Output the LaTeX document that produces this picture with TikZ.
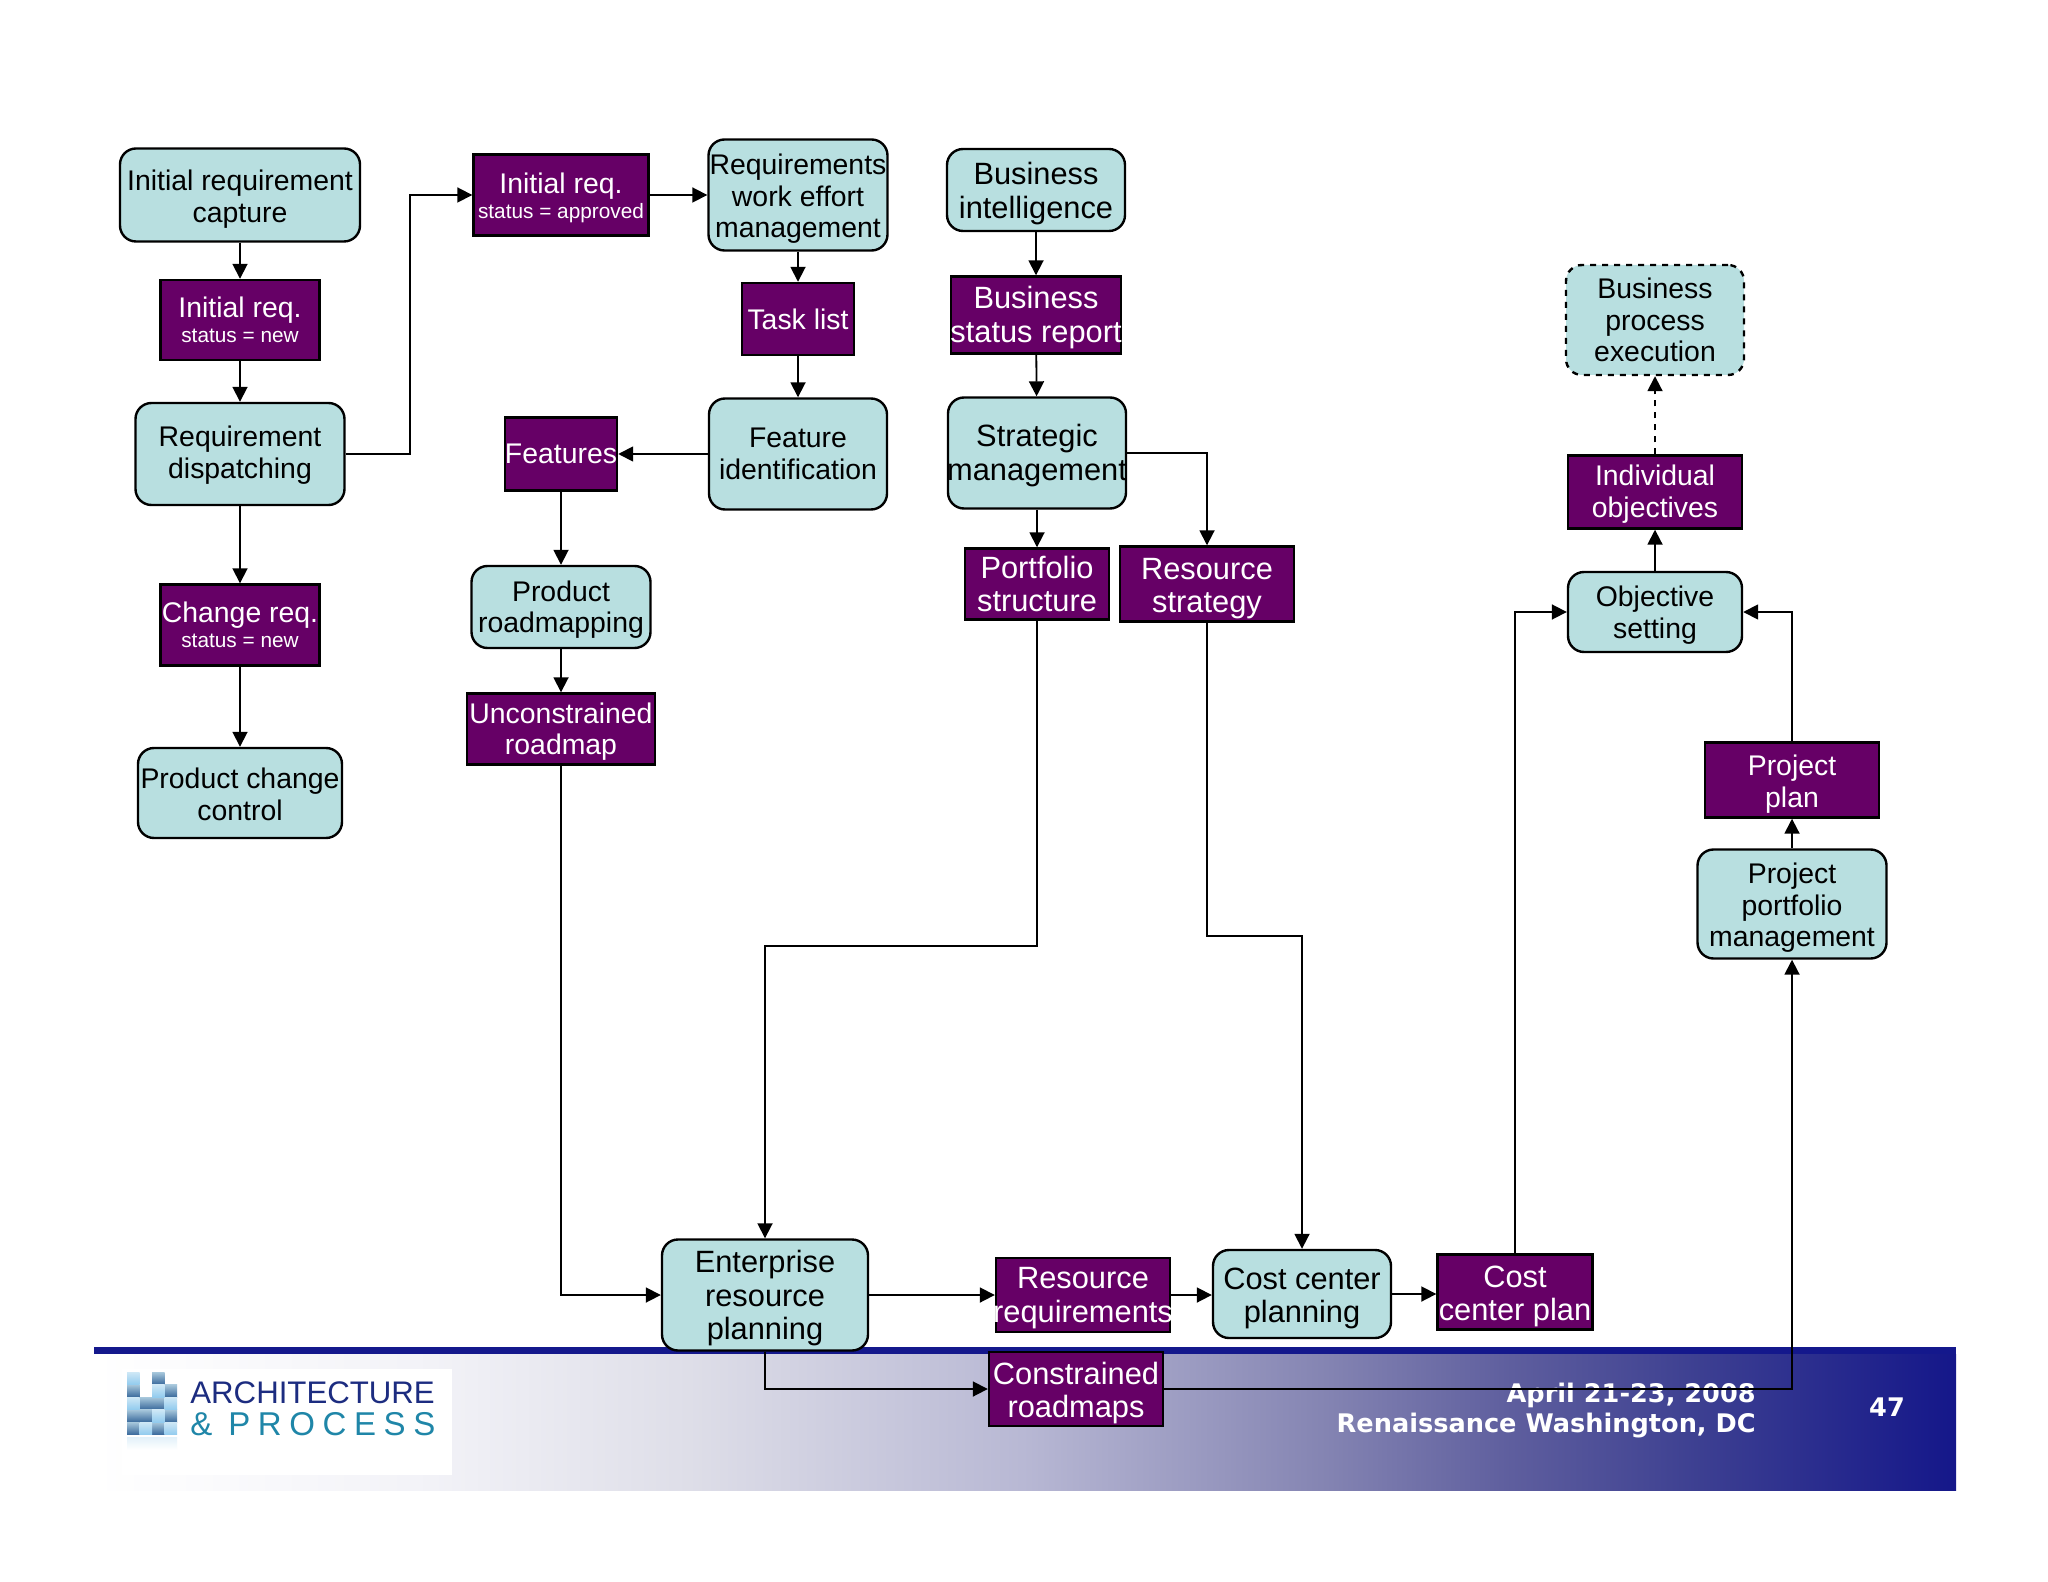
\documentclass[tikz,border=0pt]{standalone}
\usepackage{fontspec}
\setmainfont{Liberation Sans}
\newfontfamily\footfont{DejaVu Sans}
\newfontfamily\logospaced[LetterSpace=23]{Liberation Sans}
\usetikzlibrary{arrows.meta}
\definecolor{boxteal}{HTML}{B8DFE0}
\definecolor{boxpurple}{HTML}{660066}
\definecolor{footernavy}{HTML}{14188C}
\definecolor{logonavy}{HTML}{1C2C80}
\definecolor{logoteal}{HTML}{1F86A8}
\definecolor{blockdark}{HTML}{3A6A9C}
\definecolor{blockmid}{HTML}{A8C8DC}
\definecolor{blocklight}{HTML}{92CBEE}
\definecolor{blockpale}{HTML}{CFE8F6}
\pgfdeclarehorizontalshading{footerfade}{100bp}{
    rgb(0bp)=(1,1,1);
    rgb(25bp)=(1,1,1);
    rgb(34bp)=(0.95,0.95,0.97);
    rgb(41bp)=(0.87,0.87,0.91);
    rgb(50bp)=(0.72,0.72,0.83);
    rgb(58bp)=(0.52,0.52,0.70);
    rgb(63bp)=(0.37,0.37,0.62);
    rgb(68bp)=(0.24,0.25,0.57);
    rgb(75bp)=(0.08,0.09,0.54);
    rgb(100bp)=(0.08,0.09,0.54)}
\tikzset{
    x=0.5pt,y=-0.5pt,
    boxsize/.style 2 args={minimum width=#1*0.5pt,minimum height=#2*0.5pt},
    procbox/.style={draw=black,line width=1.2pt,fill=boxteal,rounded corners=8pt,
        inner sep=0pt,align=center,font=\fontsize{14.2}{15.8}\selectfont},
    databox/.style={draw=black,line width=1.2pt,fill=boxpurple,text=white,
        inner sep=0pt,align=center,font=\fontsize{14.2}{15.8}\selectfont},
    largetext/.style={font=\fontsize{15.4}{16.8}\selectfont},
    flow/.style={draw=black,line width=0.9pt,-{Triangle[length=7.5pt,width=7.5pt]}},
    blockdarkcell/.style={top color=blockmid,bottom color=blockdark},
    blocklightcell/.style={top color=blockpale,bottom color=blocklight},
}
% pushes the text of a box down by half of the given height
\newcommand{\dn}[1]{\rule{0pt}{\dimexpr0.73em+#1pt\relax}}
% a line that runs over the edges of its box
\newcommand{\overrun}[1]{\makebox[0pt]{#1}}
\newcommand{\statusline}[1]{\\[-3pt]{\fontsize{10.4}{12}\selectfont #1}}
\begin{document}
\begin{tikzpicture}
    \useasboundingbox (0,0) rectangle (2048,1582);
    % Footer band
    \shade[shading=footerfade] (94,1354) rectangle (1956,1490);
    \fill[footernavy] (94,1347) rectangle (1956,1354);
    \fill[white] (122,1369) rectangle (452,1475);
    % Logo blocks and their faint reflection
    \foreach \cx/\cy in {2/0,0/1,3/1,1/2,2/2,0/3,1/3,3/3,0/4,2/4}
        \shade[blockdarkcell] (127+\cx*12.5,1372+\cy*12.5) rectangle (139.5+\cx*12.5,1384.5+\cy*12.5);
    \foreach \cx/\cy in {0/0,0/2,2/1,3/2,2/3,1/4,3/4}
        \shade[blocklightcell] (127+\cx*12.5,1372+\cy*12.5) rectangle (139.5+\cx*12.5,1384.5+\cy*12.5);
    \foreach \cx in {0,1,2,3}
        \shade[top color=blockpale!60,bottom color=white] (127+\cx*12.5,1437) rectangle (139.5+\cx*12.5,1450);
    \node[anchor=base west,inner sep=0pt,text=logonavy,font=\fontsize{15.6}{18}\selectfont] (logotop) at (190,1403) {ARCHITECTURE};
    \node[anchor=base west,inner sep=0pt,text=logoteal,font=\fontsize{16.5}{18}\logospaced] (logobottom) at (190,1435) {\&\hspace{8pt}PROCESS};
    % Footer texts
    \node[anchor=base east,inner sep=0pt,text=white,font=\fontsize{12.8}{14}\footfont\bfseries] (dateline) at (1756,1402) {April 21-23, 2008};
    \node[anchor=base east,inner sep=0pt,text=white,font=\fontsize{12.8}{14}\footfont\bfseries] (venueline) at (1756,1432) {Renaissance Washington, DC};
    \node[inner sep=0pt,text=white,font=\fontsize{12.8}{14}\footfont\bfseries] (pagenum) at (1887,1407) {47};
    % Requirement column
    \node[procbox,boxsize={240}{93}] (capture) at (240,195) {\dn{3.9}Initial requirement\\capture};
    \node[databox,boxsize={159}{80}] (reqnew) at (240,320) {Initial req.\statusline{status = new}};
    \node[procbox,boxsize={209}{102}] (dispatch) at (240,454) {\dn{1.3}Requirement\\dispatching};
    \node[databox,boxsize={159}{81}] (changereq) at (240,625) {Change req.\statusline{status = new}};
    \node[procbox,boxsize={204}{90}] (changectl) at (240,793) {\dn{1.3}Product change\\control};
    % Roadmap columns
    \node[databox,boxsize={175}{81}] (reqapproved) at (561,195) {\dn{2.6}Initial req.\statusline{status = approved}};
    \node[procbox,boxsize={179}{111}] (workeffort) at (798,195) {\dn{3.9}Requirements\\work effort\\management};
    \node[databox,boxsize={112}{72}] (tasklist) at (798,319) {Task list};
    \node[procbox,boxsize={178}{111}] (featureid) at (798,454) {Feature\\identification};
    \node[databox,boxsize={112}{73}] (features) at (561,454) {Features};
    \node[procbox,boxsize={179}{82}] (roadmapping) at (561,607) {\dn{2.6}Product\\roadmapping};
    \node[databox,boxsize={188}{71}] (unconstrained) at (561,729) {\dn{2.6}Unconstrained\\roadmap};
    % Strategy column
    \node[procbox,largetext,boxsize={178}{82}] (bizintel) at (1036,190) {\dn{3.3}Business\\intelligence};
    \node[databox,largetext,boxsize={170}{77}] (bizreport) at (1036,315) {\dn{2.6}Business\\\overrun{status report}};
    \node[procbox,largetext,boxsize={178}{111}] (strategic) at (1037,453) {\dn{2.6}Strategic\\\overrun{management}};
    \node[databox,largetext,boxsize={144}{71}] (portstruct) at (1037,584) {Portfolio\\structure};
    \node[databox,largetext,boxsize={174}{75}] (resstrategy) at (1207,584) {\dn{3.9}Resource\\strategy};
    % Objectives and project columns
    \node[procbox,dashed,boxsize={178}{110}] (bizprocess) at (1655,320) {Business\\process\\execution};
    \node[databox,boxsize={174}{73}] (objectives) at (1655,492) {\dn{2}Individual\\objectives};
    \node[procbox,boxsize={174}{80}] (objsetting) at (1655,612) {\dn{3.3}Objective\\setting};
    \node[databox,boxsize={174}{75}] (projplan) at (1792,780) {\dn{3.9}Project\\plan};
    \node[procbox,boxsize={189}{109}] (portmgmt) at (1792,904) {\dn{3.9}Project\\portfolio\\management};
    % Bottom row
    \node[procbox,largetext,boxsize={206}{111}] (erp) at (765,1295) {\dn{3.3}Enterprise\\resource\\planning};
    \node[databox,largetext,boxsize={174}{74}] (resreq) at (1083,1295) {\dn{2.6}Resource\\\overrun{requirements}};
    \node[databox,largetext,boxsize={174}{74}] (constrained) at (1076,1389) {\dn{3.9}Constrained\\roadmaps};
    \node[procbox,largetext,boxsize={178}{88}] (costplanning) at (1302,1294) {\dn{3.9}Cost center\\planning};
    \node[databox,largetext,boxsize={155}{75}] (costplan) at (1515,1292) {\dn{3.9}Cost\\center plan};
    % Connectors
    \draw[flow] (capture) -- (reqnew);
    \draw[flow] (reqnew) -- (dispatch);
    \draw[flow] (dispatch) -- (changereq);
    \draw[flow] (changereq) -- (changectl);
    \draw[flow] (dispatch.east) -- ++(64,0) |- (reqapproved.west);
    \draw[flow] (reqapproved) -- (workeffort);
    \draw[flow] (workeffort) -- (tasklist);
    \draw[flow] (tasklist) -- (featureid);
    \draw[flow] (featureid) -- (features);
    \draw[flow] (features) -- (roadmapping);
    \draw[flow] (roadmapping) -- (unconstrained);
    \draw[flow] (unconstrained.south) |- (erp.west);
    \draw[flow] (bizintel.south) -- (bizreport.north -| bizintel.south);
    \draw[flow] (bizreport) -- (strategic);
    \draw[flow] (strategic) -- (portstruct);
    \draw[flow] (strategic.east) -| (resstrategy.north);
    \draw[flow] (portstruct.south) -- ++(0,325) -| (erp.north);
    \draw[flow] (resstrategy.south) -- ++(0,313) -| (costplanning.north);
    \draw[flow] (erp) -- (resreq);
    \draw[flow] (resreq.east) -- (costplanning.west |- resreq.east);
    \draw[flow] (costplanning.east) -- (costplan.west |- costplanning.east);
    \draw[flow] (costplan.north) |- (objsetting.west);
    \draw[flow] (erp.south) |- (constrained.west);
    \draw[flow] (constrained.east) -| (portmgmt.south);
    \draw[flow] (portmgmt) -- (projplan);
    \draw[flow] (projplan.north) |- (objsetting.east);
    \draw[flow] (objsetting) -- (objectives);
    \draw[flow,dashed] (objectives) -- (bizprocess);
\end{tikzpicture}
\end{document}
